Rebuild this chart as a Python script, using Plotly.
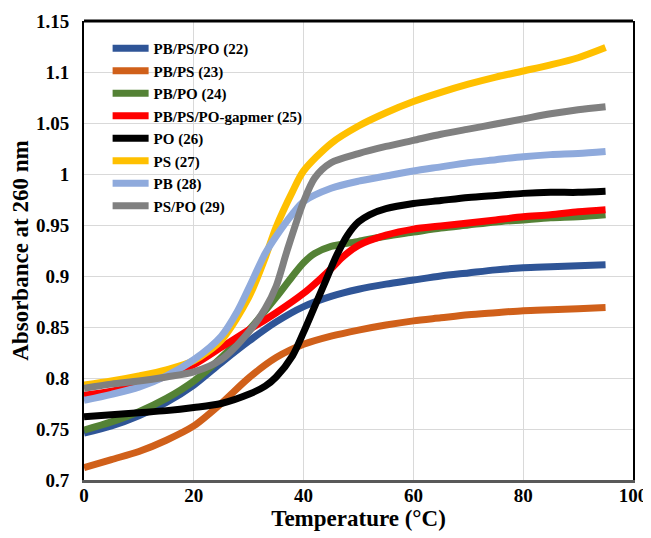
import plotly.graph_objects as go

# --- data (Temperature °C, Absorbance at 260 nm) ---
t_blue = [0, 5, 10, 15, 20, 25, 30, 35, 40, 45, 50, 55, 60, 65, 70, 75, 80, 85, 90, 95]
a_blue = [0.746, 0.753, 0.763, 0.776, 0.793, 0.815, 0.836, 0.855, 0.870, 0.880, 0.887, 0.892, 0.896, 0.900, 0.903, 0.906, 0.908, 0.909, 0.910, 0.911]

t_orange = [0, 5, 10, 15, 20, 25, 30, 35, 40, 45, 50, 55, 60, 65, 70, 75, 80, 85, 90, 95]
a_orange = [0.712, 0.720, 0.728, 0.739, 0.753, 0.775, 0.800, 0.820, 0.833, 0.841, 0.847, 0.852, 0.856, 0.859, 0.862, 0.864, 0.866, 0.867, 0.868, 0.869]

t_green = [0, 5, 10, 15, 20, 25, 30, 35, 38, 40, 42, 45, 50, 55, 60, 65, 70, 75, 80, 85, 90, 95]
a_green = [0.749, 0.757, 0.767, 0.780, 0.797, 0.820, 0.847, 0.879, 0.900, 0.913, 0.922, 0.929, 0.934, 0.939, 0.943, 0.947, 0.950, 0.953, 0.955, 0.957, 0.958, 0.960]

t_red = [0, 5, 10, 15, 20, 25, 30, 35, 40, 43, 45, 47, 50, 55, 60, 65, 70, 75, 80, 85, 90, 95]
a_red = [0.783, 0.787, 0.793, 0.802, 0.813, 0.830, 0.847, 0.864, 0.883, 0.897, 0.907, 0.918, 0.930, 0.940, 0.946, 0.949, 0.952, 0.955, 0.958, 0.960, 0.963, 0.965]

t_black = [0, 5, 10, 15, 20, 25, 30, 33, 35, 38, 40, 42, 44, 46, 48, 50, 52, 55, 60, 65, 70, 75, 80, 85, 90, 95]
a_black = [0.762, 0.764, 0.766, 0.768, 0.771, 0.775, 0.784, 0.792, 0.801, 0.822, 0.845, 0.870, 0.895, 0.920, 0.940, 0.953, 0.960, 0.966, 0.971, 0.974, 0.977, 0.979, 0.981, 0.982, 0.982, 0.983]

t_yellow = [0, 5, 10, 15, 20, 25, 30, 33, 35, 38, 40, 45, 50, 55, 60, 65, 70, 75, 80, 85, 90, 95]
a_yellow = [0.793, 0.797, 0.802, 0.808, 0.817, 0.837, 0.879, 0.918, 0.948, 0.983, 1.003, 1.030, 1.047, 1.060, 1.071, 1.080, 1.088, 1.095, 1.101, 1.107, 1.114, 1.124]

t_lblue = [0, 5, 10, 15, 20, 25, 28, 30, 33, 35, 38, 40, 45, 50, 55, 60, 65, 70, 75, 80, 85, 90, 95]
a_lblue = [0.778, 0.784, 0.791, 0.802, 0.818, 0.841, 0.866, 0.888, 0.922, 0.939, 0.961, 0.973, 0.986, 0.993, 0.998, 1.003, 1.007, 1.011, 1.014, 1.017, 1.019, 1.020, 1.022]

t_grey = [0, 5, 10, 15, 20, 25, 30, 33, 35, 37, 40, 42, 45, 50, 55, 60, 65, 70, 75, 80, 85, 90, 95]
a_grey = [0.790, 0.794, 0.797, 0.801, 0.806, 0.818, 0.845, 0.868, 0.890, 0.925, 0.973, 0.996, 1.011, 1.020, 1.027, 1.033, 1.039, 1.044, 1.049, 1.054, 1.059, 1.063, 1.066]

names = ["PB/PS/PO (22)", "PB/PS (23)", "PB/PO (24)", "PB/PS/PO-gapmer (25)",
         "PO (26)", "PS (27)", "PB (28)", "PS/PO (29)"]
colors = ["#2F5597", "#D0601A", "#548235", "#FF0000",
          "#000000", "#FFC000", "#8FAADC", "#808080"]
series = [(t_blue, a_blue), (t_orange, a_orange), (t_green, a_green), (t_red, a_red),
          (t_black, a_black), (t_yellow, a_yellow), (t_lblue, a_lblue), (t_grey, a_grey)]

yticks = [0.7, 0.75, 0.8, 0.85, 0.9, 0.95, 1.0, 1.05, 1.1, 1.15]
yticktext = ["0.7", "0.75", "0.8", "0.85", "0.9", "0.95", "1", "1.05", "1.1", "1.15"]
xticks = [0, 20, 40, 60, 80, 100]

FONT = "Liberation Serif, Times New Roman, serif"

fig = go.Figure()
for (t, a), n, c in zip(series, names, colors):
    fig.add_trace(go.Scatter(x=t, y=a, name="<b>%s</b>" % n, mode="lines",
                             line=dict(color=c, width=7, shape="spline", smoothing=0.8)))

fig.update_layout(
    width=651, height=538,
    margin=dict(l=76, r=26, t=13, b=66),
    paper_bgcolor="white", plot_bgcolor="white",
    font=dict(family=FONT, color="black"),
    showlegend=True,
    legend=dict(x=0.043, y=0.976, xanchor="left", yanchor="top",
                bgcolor="rgba(0,0,0,0)", font=dict(family=FONT, size=15, color="black"),
                tracegroupgap=0, itemwidth=36),
    xaxis=dict(range=[0, 100], tickvals=xticks, ticktext=["<b>%d</b>" % v for v in xticks],
               ticks="", ticklen=0, showgrid=True, automargin=False,
               gridcolor="#D9D9D9", gridwidth=1, zeroline=False,
               showline=True, linecolor="#595959", linewidth=3,
               tickfont=dict(family=FONT, size=19, color="black"),
               ticklabelstandoff=-4,
               title=dict(text="<b>Temperature (°C)</b>", font=dict(family=FONT, size=23), standoff=5)),
    yaxis=dict(range=[0.7, 1.15], tickvals=yticks, ticktext=["<b>%s</b>" % s for s in yticktext],
               ticks="", ticklen=0, showgrid=True, gridcolor="#D9D9D9", gridwidth=1, zeroline=False,
               automargin=False,
               showline=True, linecolor="black", linewidth=2, mirror=True,
               tickfont=dict(family=FONT, size=19, color="black"),
               ticklabelstandoff=9,
               title=dict(text="<b>Absorbance at 260 nm</b>", font=dict(family=FONT, size=23), standoff=1)),
)
fig.add_shape(type="line", xref="paper", yref="paper", x0=0, x1=1, y0=1, y1=1,
              line=dict(color="black", width=3))

fig.write_html("out.html")
